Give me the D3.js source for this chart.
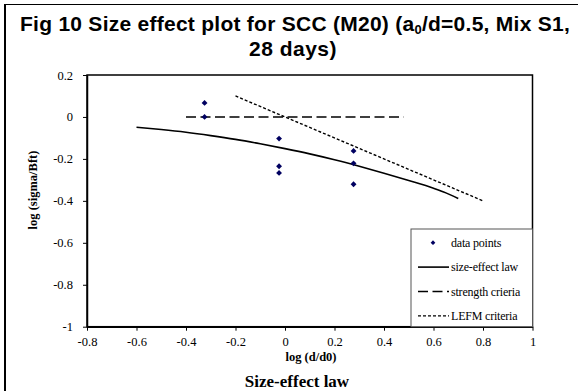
<!DOCTYPE html>
<html>
<head>
<meta charset="utf-8">
<script src="https://cdn.jsdelivr.net/npm/d3@7"></script>
<style>
  body { margin: 0; background: #fff; }
  svg { display: block; }
</style>
</head>
<body>
<div id="chart"></div>
<script>
// Measured points: log (d/d0) vs log (sigma/Bft)
var point_x = [ -0.325, -0.325, -0.024, -0.024, -0.024, 0.277, 0.277, 0.277 ];
var point_y = [ 0.067, 0.0, -0.103, -0.235, -0.267, -0.162, -0.221, -0.321 ];

// Size-effect law curve
var law_x = [ -0.6, -0.5, -0.4, -0.3, -0.2, -0.1, 0.0, 0.1, 0.2, 0.3, 0.4, 0.5, 0.6, 0.65, 0.7 ];
var law_y = [ -0.049, -0.060, -0.073, -0.089, -0.107, -0.128, -0.151, -0.176, -0.204, -0.235, -0.268, -0.303, -0.340, -0.362, -0.389 ];

// Strength criteria (horizontal) and LEFM criteria (slope -1/2)
var strength_x = [ -0.4, 0.48 ];
var strength_y = [ 0, 0 ];
var lefm_x = [ -0.2, 0.8 ];
var lefm_y = [ 0.1, -0.4 ];

var x_ticks = [ -0.8, -0.6, -0.4, -0.2, 0, 0.2, 0.4, 0.6, 0.8, 1 ];
var y_ticks = [ -1, -0.8, -0.6, -0.4, -0.2, 0, 0.2 ];

var legend_labels = [ 'data points', 'size-effect law', 'strength crieria', 'LEFM criteria' ];

var width = 578, height = 391;
var plot = { left: 87, right: 532.5, top: 75, bottom: 326.7 };
var serif = '"Liberation Serif", "Times New Roman", serif';
var sans = '"Liberation Sans", Arial, sans-serif';

var svg = d3.select( '#chart' ).append( 'svg' )
  .attr( 'width', width )
  .attr( 'height', height );

// outer frame (left and top edges only)
svg.append( 'line' ).attr( 'x1', 5 ).attr( 'x2', 5 ).attr( 'y1', 4 ).attr( 'y2', height )
  .attr( 'stroke', '#000' ).attr( 'stroke-width', 2 );
svg.append( 'line' ).attr( 'x1', 4 ).attr( 'x2', width ).attr( 'y1', 4.5 ).attr( 'y2', 4.5 )
  .attr( 'stroke', '#000' ).attr( 'stroke-width', 1 );

// title, stretched to the width it takes in the original
function fit_width( sel, target ){
  var chars = sel.text().length;
  var w = sel.node().getComputedTextLength();
  sel.style( 'letter-spacing', ( ( target - w ) / chars ) + 'px' );
}
var title = svg.append( 'text' )
  .attr( 'x', 295 ).attr( 'y', 31 )
  .attr( 'text-anchor', 'middle' )
  .style( 'font-family', sans )
  .style( 'font-weight', 'bold' )
  .style( 'font-size', '21px' );
title.append( 'tspan' ).text( 'Fig 10 Size effect plot for SCC (M20) (a' );
title.append( 'tspan' ).attr( 'font-size', '13px' ).attr( 'dy', 3 ).text( '0' );
title.append( 'tspan' ).attr( 'dy', -3 ).text( '/d=0.5, Mix S1,' );
fit_width( title, 550 );
var title2 = svg.append( 'text' )
  .attr( 'x', 293 ).attr( 'y', 56 )
  .attr( 'text-anchor', 'middle' )
  .style( 'font-family', sans )
  .style( 'font-weight', 'bold' )
  .style( 'font-size', '21px' )
  .text( '28 days)' );
fit_width( title2, 88 );

var x_scale = d3.scaleLinear().domain( [ -0.8, 1 ] ).range( [ plot.left, plot.right ] );
var y_scale = d3.scaleLinear().domain( [ -1, 0.2 ] ).range( [ plot.bottom, plot.top ] );

var fmt = function( d ){ return String( +d.toFixed( 1 ) ); };

// plot area border (top and right)
svg.append( 'rect' )
  .attr( 'x', plot.left ).attr( 'y', plot.top )
  .attr( 'width', plot.right - plot.left ).attr( 'height', plot.bottom - plot.top )
  .attr( 'fill', 'none' ).attr( 'stroke', '#000' ).attr( 'stroke-width', 1.5 );

// axes
var x_axis = svg.append( 'g' )
  .attr( 'transform', 'translate(0,' + plot.bottom + ')' )
  .call( d3.axisBottom( x_scale ).tickValues( x_ticks ).tickFormat( fmt ).tickSize( 4 ).tickSizeOuter( 0 ).tickPadding( 6 ) );
var y_axis = svg.append( 'g' )
  .attr( 'transform', 'translate(' + plot.left + ',0)' )
  .call( d3.axisLeft( y_scale ).tickValues( y_ticks ).tickFormat( fmt ).tickSize( 4 ).tickSizeOuter( 0 ).tickPadding( 10 ) );
[ x_axis, y_axis ].forEach( function( ax ){
  ax.select( '.domain' ).attr( 'stroke', '#000' ).attr( 'stroke-width', 1.5 );
  ax.selectAll( '.tick line' ).attr( 'stroke', '#000' );
  ax.selectAll( 'text' ).style( 'font-family', serif ).style( 'font-size', '12.5px' ).attr( 'fill', '#000' );
} );

// lines
var line = d3.line()
  .x( function( d ){ return x_scale( d[0] ); } )
  .y( function( d ){ return y_scale( d[1] ); } );

svg.append( 'path' )
  .datum( d3.zip( law_x, law_y ) )
  .attr( 'd', line.curve( d3.curveMonotoneX ) )
  .attr( 'fill', 'none' ).attr( 'stroke', '#000' ).attr( 'stroke-width', 1.6 );

svg.append( 'path' )
  .datum( d3.zip( strength_x, strength_y ) )
  .attr( 'd', line.curve( d3.curveLinear ) )
  .attr( 'fill', 'none' ).attr( 'stroke', '#000' ).attr( 'stroke-width', 1.5 )
  .attr( 'stroke-dasharray', '10,4.5' );

svg.append( 'path' )
  .datum( d3.zip( lefm_x, lefm_y ) )
  .attr( 'd', line.curve( d3.curveLinear ) )
  .attr( 'fill', 'none' ).attr( 'stroke', '#000' ).attr( 'stroke-width', 1.4 )
  .attr( 'stroke-dasharray', '3,2' );

// data points (square turned on its corner)
var diamond = d3.symbol().type( d3.symbolSquare ).size( 17 );
svg.append( 'g' ).selectAll( 'path' )
  .data( d3.zip( point_x, point_y ) )
  .enter().append( 'path' )
    .attr( 'transform', function( d ){ return 'translate(' + x_scale( d[0] ) + ',' + y_scale( d[1] ) + ') rotate(45)'; } )
    .attr( 'd', diamond )
    .attr( 'fill', '#000060' );

// axis titles
svg.append( 'text' )
  .attr( 'transform', 'translate(37,190) rotate(-90)' )
  .attr( 'text-anchor', 'middle' )
  .style( 'font-family', serif ).style( 'font-weight', 'bold' ).style( 'font-size', '12.5px' )
  .text( 'log (sigma/Bft)' );
svg.append( 'text' )
  .attr( 'x', 311 ).attr( 'y', 361 )
  .attr( 'text-anchor', 'middle' )
  .style( 'font-family', serif ).style( 'font-weight', 'bold' ).style( 'font-size', '12.5px' )
  .text( 'log (d/d0)' );
svg.append( 'text' )
  .attr( 'x', 297 ).attr( 'y', 387 )
  .attr( 'text-anchor', 'middle' )
  .style( 'font-family', serif ).style( 'font-weight', 'bold' ).style( 'font-size', '17px' )
  .text( 'Size-effect law' );

// legend
var legend = { left: 411, top: 229, row0: 242.7, step: 24.4 };
svg.append( 'rect' )
  .attr( 'x', legend.left ).attr( 'y', legend.top )
  .attr( 'width', plot.right - legend.left ).attr( 'height', plot.bottom - legend.top )
  .attr( 'fill', '#fff' ).attr( 'stroke', '#555' ).attr( 'stroke-width', 1 );
var keys = svg.append( 'g' ).selectAll( 'g' )
  .data( legend_labels )
  .enter().append( 'g' )
    .attr( 'transform', function( d, i ){ return 'translate(0,' + ( legend.row0 + i * legend.step ) + ')'; } );
keys.append( 'text' )
  .attr( 'x', 451 ).attr( 'y', 4 )
  .style( 'font-family', serif ).style( 'font-size', '12px' )
  .style( 'letter-spacing', '-0.2px' )
  .text( function( d ){ return d; } );
keys.filter( function( d, i ){ return i == 0; } ).append( 'path' )
  .attr( 'transform', 'translate(433,0) rotate(45)' )
  .attr( 'd', d3.symbol().type( d3.symbolSquare ).size( 11 ) ).attr( 'fill', '#000060' );
var samples = [ null, { w: 1.6, dash: null }, { w: 1.5, dash: '10,4.5' }, { w: 1.4, dash: '3,2' } ];
keys.filter( function( d, i ){ return i > 0; } ).append( 'line' )
  .attr( 'x1', 418 ).attr( 'x2', 449 ).attr( 'y1', 0 ).attr( 'y2', 0 )
  .attr( 'stroke', '#000' )
  .attr( 'stroke-width', function( d, i ){ return samples[ i + 1 ].w; } )
  .attr( 'stroke-dasharray', function( d, i ){ return samples[ i + 1 ].dash; } );
</script>
</body>
</html>
